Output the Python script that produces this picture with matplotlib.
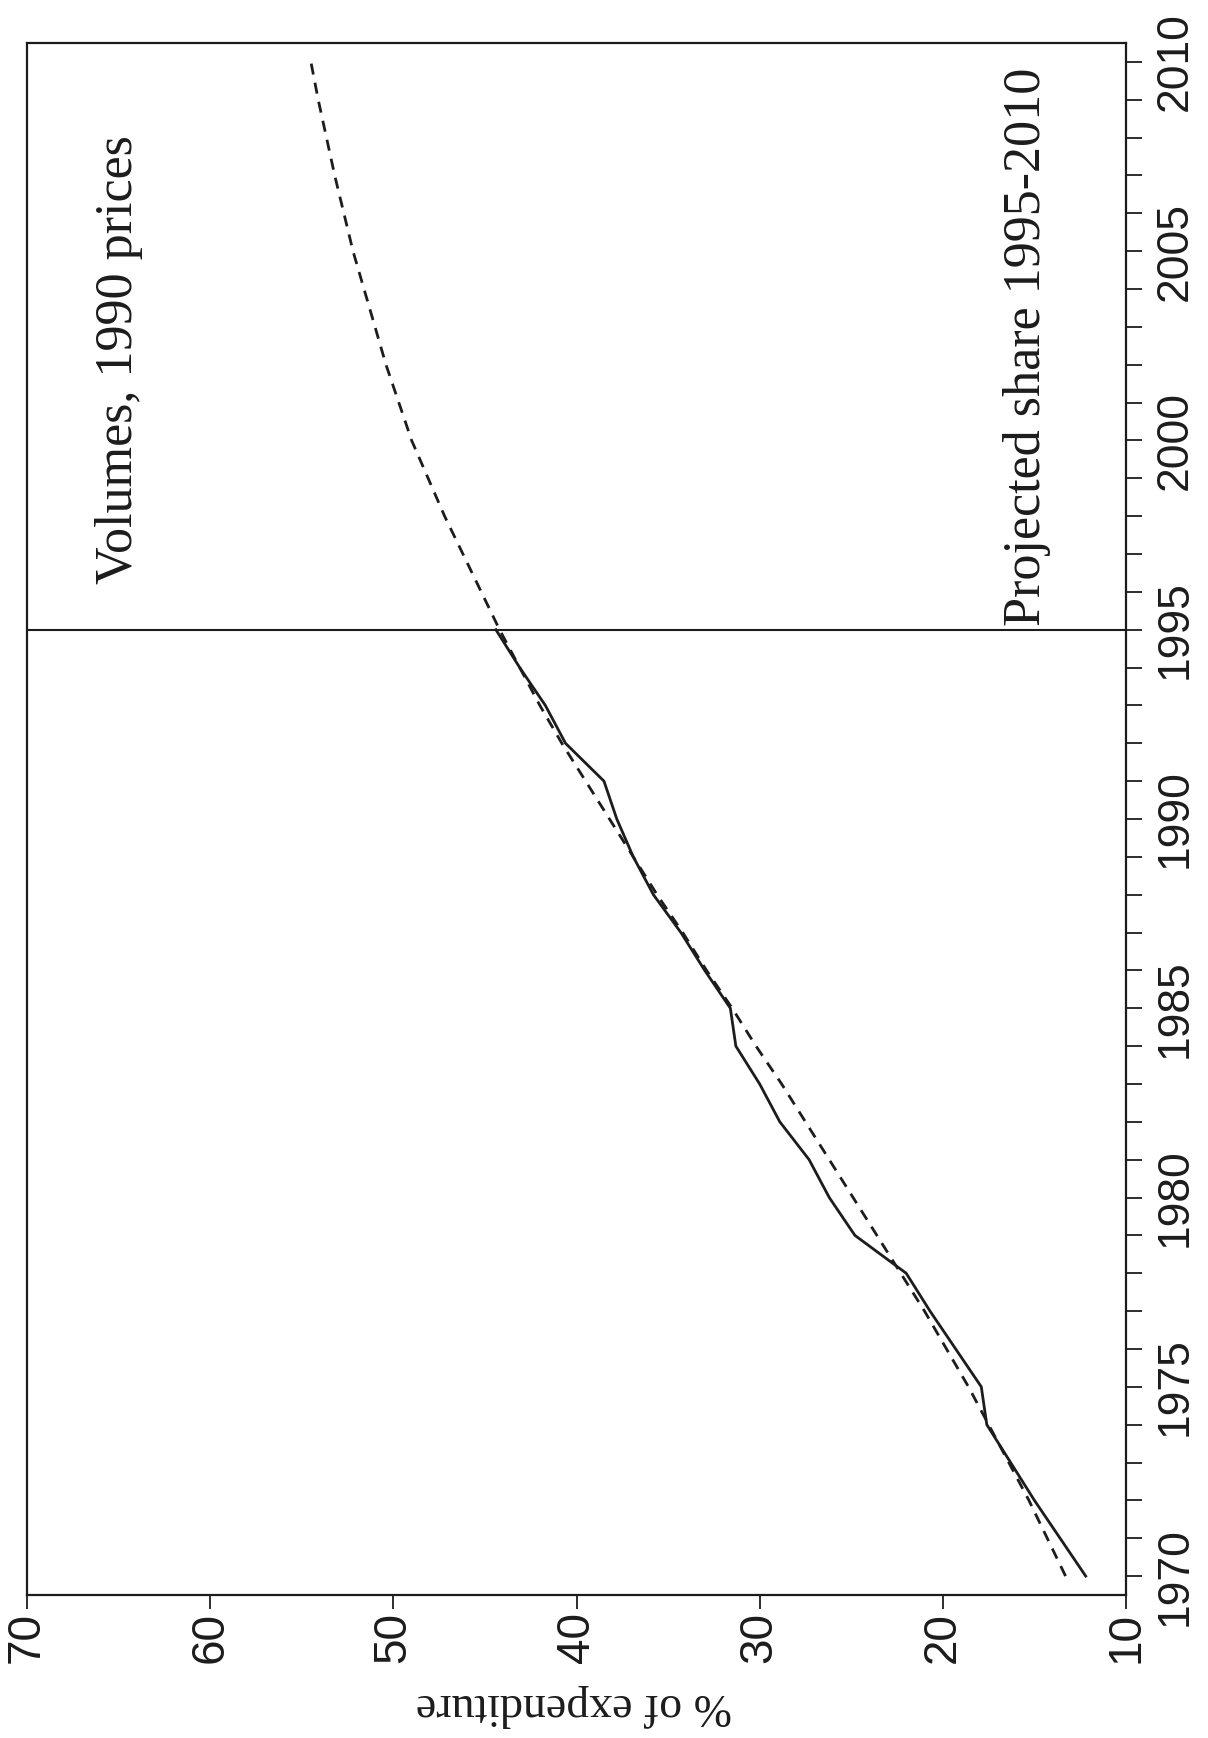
import matplotlib
matplotlib.use("Agg")
import matplotlib.pyplot as plt

# ---- data ----
actual_years = list(range(1970, 1996))
actual_share = [12.2, 13.6, 15.0, 16.3, 17.6, 17.9, 19.3, 20.7, 22.0, 24.8,
                26.2, 27.3, 28.9, 30.0, 31.3, 31.6, 33.0, 34.3, 35.8, 36.9,
                37.8, 38.5, 40.6, 41.7, 43.1, 44.4]

projected_years = list(range(1970, 2011))
projected_share = [13.3, 14.3, 15.3, 16.4, 17.5, 18.6, 19.8, 21.0, 22.3, 23.6,
                   24.9, 26.2, 27.5, 28.8, 30.2, 31.5, 32.9, 34.2, 35.6, 36.9,
                   38.2, 39.5, 40.8, 42.0, 43.1, 44.2, 45.2, 46.2, 47.2, 48.1,
                   49.0, 49.7, 50.4, 51.0, 51.6, 52.2, 52.7, 53.2, 53.65, 54.1,
                   54.5]

pct_ticks = [10, 20, 30, 40, 50, 60, 70]
year_major = [1970, 1975, 1980, 1985, 1990, 1995, 2000, 2005, 2010]
year_minor = list(range(1970, 2011))

split_year = 1995
ylabel_text = "% of expenditure"
note_top = "Volumes, 1990 prices"
note_bottom = "Projected share 1995-2010"

INK = "#1c1c1c"
W, H = 1208, 1738
fig = plt.figure(figsize=(W / 100, H / 100), dpi=100)
fig.patch.set_facecolor("white")

left, right, top, bottom = 27, 1126, 43, 1595
ax = fig.add_axes([left / W, 1 - bottom / H, (right - left) / W, (bottom - top) / H])

ax.plot(actual_share, actual_years, color=INK, lw=2.0, solid_joinstyle="round")
ax.plot(projected_share, projected_years, color=INK, lw=2.0, dashes=(4, 3))
ax.axhline(split_year, color=INK, lw=1.5)

ax.set_xlim(70, 10)
ax.set_ylim(1969.5, 2010.5)

ax.set_xticks(pct_ticks)
ax.set_xticklabels([str(v) for v in pct_ticks], family="Liberation Sans", fontsize=33)
ax.yaxis.tick_right()
ax.set_yticks(year_major)
ax.set_yticks(year_minor, minor=True)
ax.set_yticklabels([str(v) for v in year_major], family="Liberation Sans", fontsize=32)

ax.tick_params(axis="x", direction="out", length=10, width=1.3, pad=2,
               labelrotation=90, colors=INK)
ax.tick_params(axis="y", which="both", direction="out", length=11.5, width=1.3,
               right=True, left=False, labelright=True, labelleft=False, pad=9,
               labelrotation=90, colors=INK)
for lbl in ax.get_yticklabels():
    lbl.set_va("center")

for s in ax.spines.values():
    s.set_linewidth(1.6)
    s.set_color(INK)

ax.text(65.0, 1996.2, note_top, rotation=90, ha="center", va="bottom",
        family="Liberation Serif", fontsize=37.5, color=INK)
ax.text(15.4, 1995.1, note_bottom, rotation=90, ha="center", va="bottom",
        family="Liberation Serif", fontsize=37.5, color=INK)

fig.text(574 / W, 1 - 1705 / H, ylabel_text, rotation=180, ha="center", va="center",
         family="Liberation Serif", fontsize=33, color=INK)

fig.savefig("out.png", dpi=100)
